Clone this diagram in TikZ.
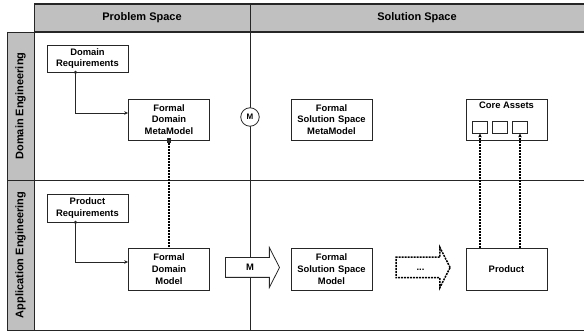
\documentclass[tikz,border=0pt]{standalone}
\usepackage{fontspec}
\setmainfont{Liberation Sans}
\usetikzlibrary{shapes.arrows,arrows.meta}

\definecolor{lanegray}{HTML}{C0C0C0}
\definecolor{frame}{HTML}{262626}

\begin{document}
\begin{tikzpicture}[x=1pt, y=-1pt, >={Stealth[length=4pt,width=3.5pt]},
    block/.style={rectangle, draw=frame, fill=white, line width=0.8pt, minimum width=81pt, text width=78pt, align=center, inner sep=1pt, font=\bfseries\fontsize{9.4}{11.8}\selectfont},
    lane/.style={font=\bfseries\fontsize{11}{13}\selectfont, inner sep=0pt},
    asset/.style={rectangle, draw=frame, fill=white, line width=0.8pt, minimum width=15pt, minimum height=12pt, inner sep=0pt},
    bigarrow/.style={single arrow, draw=frame, fill=white, line width=0.8pt, minimum height=54pt, minimum width=39pt, single arrow head extend=10pt, single arrow tip angle=126, inner xsep=1pt, inner ysep=6pt, text height=7pt, text depth=0pt, font=\bfseries\fontsize{9.4}{11}\selectfont},
    wire/.style={->, draw=frame, line width=0.6pt},
    trace/.style={draw=black, line width=1.7pt, dash pattern=on 2pt off 1pt}]
    \useasboundingbox (0,0) rectangle (584,331);

    % swimlane frame
    \fill[lanegray] (34,4) rectangle (584,32);
    \fill[lanegray] (7,32) rectangle (34,330);
    \draw[frame, line width=1.5pt] (34,4) -- (584,4);
    \draw[frame, line width=1.5pt] (34,32) -- (584,32);
    \draw[frame, line width=0.9pt] (7,32) -- (34,32);
    \draw[frame, line width=0.9pt] (34,4) -- (34,330);
    \draw[frame, line width=0.9pt] (7,32) -- (7,330);
    \draw[frame, line width=0.9pt] (7,180) -- (584,180);
    \draw[frame, line width=0.9pt] (7,330) -- (584,330);
    \draw[frame, line width=0.9pt] (250,4) -- (250,330);

    \node[lane] (ps) at (142,18) {Problem Space};
    \node[lane] (ss) at (417,18) {Solution Space};
    \node[lane, rotate=90] (de) at (20.5,106) {Domain Engineering};
    \node[lane, rotate=90] (ae) at (20.5,255) {Application Engineering};

    % domain engineering
    \node[block, minimum height=27pt] (dreq) at (87.5,58.5) {Domain\\Requirements};
    \node[block, minimum height=41pt] (fdmm) at (169,119.5) {Formal\\Domain\\MetaModel};
    \node[circle, draw=frame, fill=white, line width=0.8pt, minimum size=18.5pt, inner sep=0pt, font=\bfseries\fontsize{8}{9}\selectfont] (mm) at (250,117) {M};
    \node[block, minimum height=41pt] (fssmm) at (331.5,119.5) {Formal\\Solution Space\\MetaModel};
    \node[block, minimum height=41pt] (core) at (506.5,119.5) {};
    \node[font=\bfseries\fontsize{9.4}{11}\selectfont, below, inner sep=3pt] (coret) at (core.north) {Core Assets};
    \node[asset] (ca1) at (480,127) {};
    \node[asset] (ca2) at (500,127) {};
    \node[asset] (ca3) at (520,127) {};

    % application engineering
    \node[block, minimum height=28pt] (preq) at (87.5,208) {Product\\Requirements};
    \node[block, minimum height=42pt] (fdm) at (169,269) {Formal\\Domain\\Model};
    \node[bigarrow] (marr) at (250,267.5) {M};
    \node[block, minimum height=42pt] (fssm) at (331.5,269) {Formal\\Solution Space\\Model};
    \node[bigarrow, trace, line width=1.5pt] (darr) at (420.5,267.5) {...};
    \node[block, minimum height=42pt] (prod) at (506.5,269) {Product};

    % connectors
    \coordinate (dq) at ([xshift=-12pt]dreq.south);
    \draw[wire] (dq) |- ([yshift=6.5pt]fdmm.west);
    \fill[frame] (dq) circle (1.8pt);
    \coordinate (pq) at ([xshift=-12pt]preq.south);
    \draw[wire] (pq) |- ([yshift=7pt]fdm.west);
    \fill[frame] (pq) circle (1.8pt);

    \node[fill=frame, minimum size=4.6pt, inner sep=0pt] (sq) at (fdmm.south) {};
    \draw[trace] (sq) -- (fdm.north);
    \draw[trace, ->] (prod.north -| ca1) -- (ca1.south);
    \draw[trace, ->] (prod.north -| ca3) -- (ca3.south);
\end{tikzpicture}
\end{document}
